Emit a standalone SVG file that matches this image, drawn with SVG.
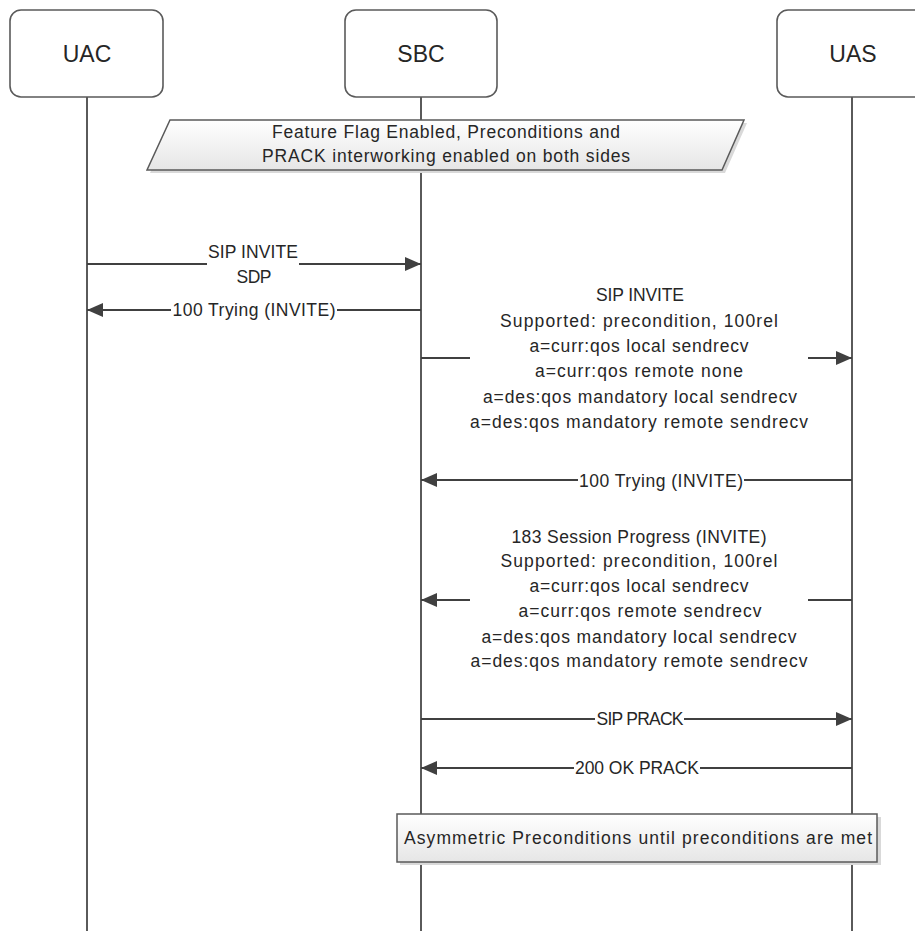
<svg xmlns="http://www.w3.org/2000/svg" width="915" height="931" viewBox="0 0 915 931">
<style>
.box{fill:#fff;stroke:#5a5a5a;stroke-width:1.6}
.life{stroke:#5a5a5a;stroke-width:2;fill:none}
.msg{stroke:#404040;stroke-width:2.2;fill:none}
.t{font-family:"Liberation Sans",Arial,sans-serif;font-size:17.5px;fill:#262626;text-anchor:middle}
.h{font-family:"Liberation Sans",Arial,sans-serif;font-size:23px;fill:#262626;text-anchor:middle}
.note{stroke:#5a5a5a;stroke-width:1.5;fill:url(#g)}
.shadow{fill:#d9d9d9}
</style>
<defs>
<linearGradient id="g" x1="0" y1="0" x2="0" y2="1">
<stop offset="0" stop-color="#ffffff"/>
<stop offset="1" stop-color="#e6e6e6"/>
</linearGradient>
<marker id="ah" markerUnits="userSpaceOnUse" markerWidth="17" markerHeight="14" refX="16" refY="7" orient="auto">
<path d="M0,0 L16,7 L0,14 Z" fill="#404040"/>
</marker>
</defs>
<rect width="915" height="931" fill="#fff"/>
<g id="lifelines">
<line class="life" x1="87" y1="97" x2="87" y2="931"/>
<line class="life" x1="421" y1="97" x2="421" y2="931"/>
<line class="life" x1="852" y1="97" x2="852" y2="931"/>
</g>
<g id="UAC">
<rect class="box" x="10" y="10" width="153" height="87" rx="11"/>
<text class="h" x="87" y="62">UAC</text>
</g>
<g id="SBC">
<rect class="box" x="345" y="10" width="152" height="87" rx="11"/>
<text class="h" x="421" y="62">SBC</text>
</g>
<g id="UAS">
<rect class="box" x="777" y="10" width="152" height="87" rx="11"/>
<text class="h" x="853" y="62">UAS</text>
</g>
<g id="feature-note">
<polygon class="shadow" points="173,123 747,123 725,173 150,173"/>
<polygon class="note" points="170,120 744,120 722,170 147,170"/>
<text class="t" x="446" y="138" textLength="348" lengthAdjust="spacing">Feature Flag Enabled, Preconditions and</text>
<text class="t" x="446" y="162" textLength="368" lengthAdjust="spacing">PRACK interworking enabled on both sides</text>
</g>
<g id="connectors">
<line class="msg" x1="87" y1="264" x2="207" y2="264"/>
<line class="msg" x1="299" y1="264" x2="421" y2="264" marker-end="url(#ah)"/>
<line class="msg" x1="421" y1="310" x2="337" y2="310"/>
<line class="msg" x1="171" y1="310" x2="87" y2="310" marker-end="url(#ah)"/>
<line class="msg" x1="421" y1="358" x2="470" y2="358"/>
<line class="msg" x1="808" y1="358" x2="852" y2="358" marker-end="url(#ah)"/>
<line class="msg" x1="852" y1="480" x2="744" y2="480"/>
<line class="msg" x1="578" y1="480" x2="421" y2="480" marker-end="url(#ah)"/>
<line class="msg" x1="852" y1="600" x2="808" y2="600"/>
<line class="msg" x1="470" y1="600" x2="421" y2="600" marker-end="url(#ah)"/>
<line class="msg" x1="421" y1="719" x2="595" y2="719"/>
<line class="msg" x1="684" y1="719" x2="852" y2="719" marker-end="url(#ah)"/>
<line class="msg" x1="852" y1="768" x2="700" y2="768"/>
<line class="msg" x1="574" y1="768" x2="421" y2="768" marker-end="url(#ah)"/>
</g>
<g id="labels">
<text class="t" x="253" y="258" textLength="90" lengthAdjust="spacing">SIP INVITE</text>
<text class="t" x="254" y="283" textLength="35" lengthAdjust="spacing">SDP</text>
<text class="t" x="254" y="316" textLength="163" lengthAdjust="spacing">100 Trying (INVITE)</text>
<text class="t" x="640" y="301" textLength="88" lengthAdjust="spacing">SIP INVITE</text>
<text class="t" x="639" y="327" textLength="278" lengthAdjust="spacing">Supported: precondition, 100rel</text>
<text class="t" x="639" y="352" textLength="219" lengthAdjust="spacing">a=curr:qos local sendrecv</text>
<text class="t" x="639" y="377" textLength="208" lengthAdjust="spacing">a=curr:qos remote none</text>
<text class="t" x="640" y="403" textLength="314" lengthAdjust="spacing">a=des:qos mandatory local sendrecv</text>
<text class="t" x="639" y="428" textLength="338" lengthAdjust="spacing">a=des:qos mandatory remote sendrecv</text>
<text class="t" x="661" y="487" textLength="164" lengthAdjust="spacing">100 Trying (INVITE)</text>
<text class="t" x="639" y="543" textLength="255" lengthAdjust="spacing">183 Session Progress (INVITE)</text>
<text class="t" x="639" y="567" textLength="277" lengthAdjust="spacing">Supported: precondition, 100rel</text>
<text class="t" x="639" y="592" textLength="219" lengthAdjust="spacing">a=curr:qos local sendrecv</text>
<text class="t" x="640" y="617" textLength="243" lengthAdjust="spacing">a=curr:qos remote sendrecv</text>
<text class="t" x="639" y="643" textLength="315" lengthAdjust="spacing">a=des:qos mandatory local sendrecv</text>
<text class="t" x="639" y="667" textLength="337" lengthAdjust="spacing">a=des:qos mandatory remote sendrecv</text>
<text class="t" x="640" y="725" textLength="87" lengthAdjust="spacing">SIP PRACK</text>
<text class="t" x="637" y="774" textLength="124" lengthAdjust="spacing">200 OK PRACK</text>
</g>
<g id="asym-note">
<rect class="shadow" x="400" y="817" width="481" height="48"/>
<rect class="note" x="397" y="814" width="480" height="48"/>
<text class="t" x="638" y="844" textLength="468" lengthAdjust="spacing">Asymmetric Preconditions until preconditions are met</text>
</g>
</svg>
